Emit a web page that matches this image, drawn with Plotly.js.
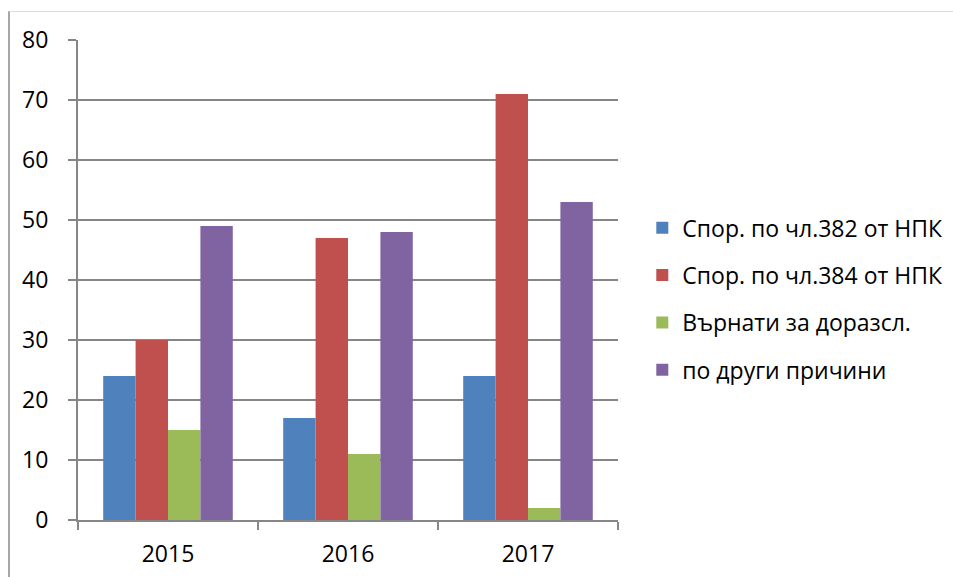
<!DOCTYPE html>
<html><head><meta charset="utf-8">
<script src="https://cdn.plot.ly/plotly-3.0.1.min.js"></script>
<style>
html,body{margin:0;padding:0;background:#fff;width:953px;height:577px;overflow:hidden;}
#frame{position:absolute;left:8px;top:11px;width:945px;height:566px;border-left:2px solid #a6a6a6;border-top:1px solid #dcdcdc;box-sizing:border-box;}
#chart{position:absolute;left:0;top:0;width:953px;height:577px;}
</style></head>
<body>
<div id="frame"></div>
<div id="chart"></div>
<script>
const categories = ['2015', '2016', '2017'];
const seriesNames = ['Спор. по чл.382 от НПК', 'Спор. по чл.384 от НПК', 'Върнати за доразсл.', 'по други причини'];
const art382 = [24, 17, 24];
const art384 = [30, 47, 71];
const returned = [15, 11, 2];
const other = [49, 48, 53];
const yTicks = [0, 10, 20, 30, 40, 50, 60, 70, 80];

const colors = ['#4F81BD', '#C0504D', '#9BBB59', '#8064A2'];
const values = [art382, art384, returned, other];
const FONT = 'Open Sans, sans-serif';

const traces = values.map((v, i) => ({
  type: 'bar', x: categories, y: v, name: seriesNames[i],
  marker: {color: colors[i], line: {width: 0}},
  legendgroup: 'g' + i, hoverinfo: 'y'
}));

const layout = {
  width: 953, height: 577,
  margin: {l: 78, r: 335, t: 40, b: 57, autoexpand: false},
  paper_bgcolor: 'rgba(0,0,0,0)', plot_bgcolor: 'rgba(0,0,0,0)',
  barmode: 'group', bargap: 0.28, bargroupgap: 0,
  font: {family: FONT, size: 23, color: '#000'},
  xaxis: {
    type: 'category', showline: true, linecolor: '#868686', linewidth: 2,
    ticks: 'outside', tickson: 'boundaries', ticklen: 8, tickwidth: 2, tickcolor: '#868686',
    showgrid: false, tickfont: {family: FONT, size: 23, color: '#000'},
    ticklabelstandoff: 12, automargin: false
  },
  yaxis: {
    range: [0, 80], tickvals: yTicks, ticktext: yTicks.map(String),
    showline: true, linecolor: '#868686', linewidth: 2,
    ticks: 'outside', ticklen: 8, tickwidth: 2, tickcolor: '#868686',
    showgrid: true, gridcolor: '#868686', gridwidth: 2, zeroline: false,
    tickfont: {family: FONT, size: 23, color: '#000'},
    ticklabelstandoff: 15, automargin: false
  },
  showlegend: true,
  legend: {
    x: 1.045, xanchor: 'left', y: 0.46, yanchor: 'middle',
    traceorder: 'grouped', tracegroupgap: 14.5,
    font: {family: FONT, size: 23, color: '#000'},
    bgcolor: 'rgba(0,0,0,0)', itemwidth: 30
  }
};

Plotly.newPlot('chart', traces, layout, {displayModeBar: false, staticPlot: true});
</script>
</body></html>
